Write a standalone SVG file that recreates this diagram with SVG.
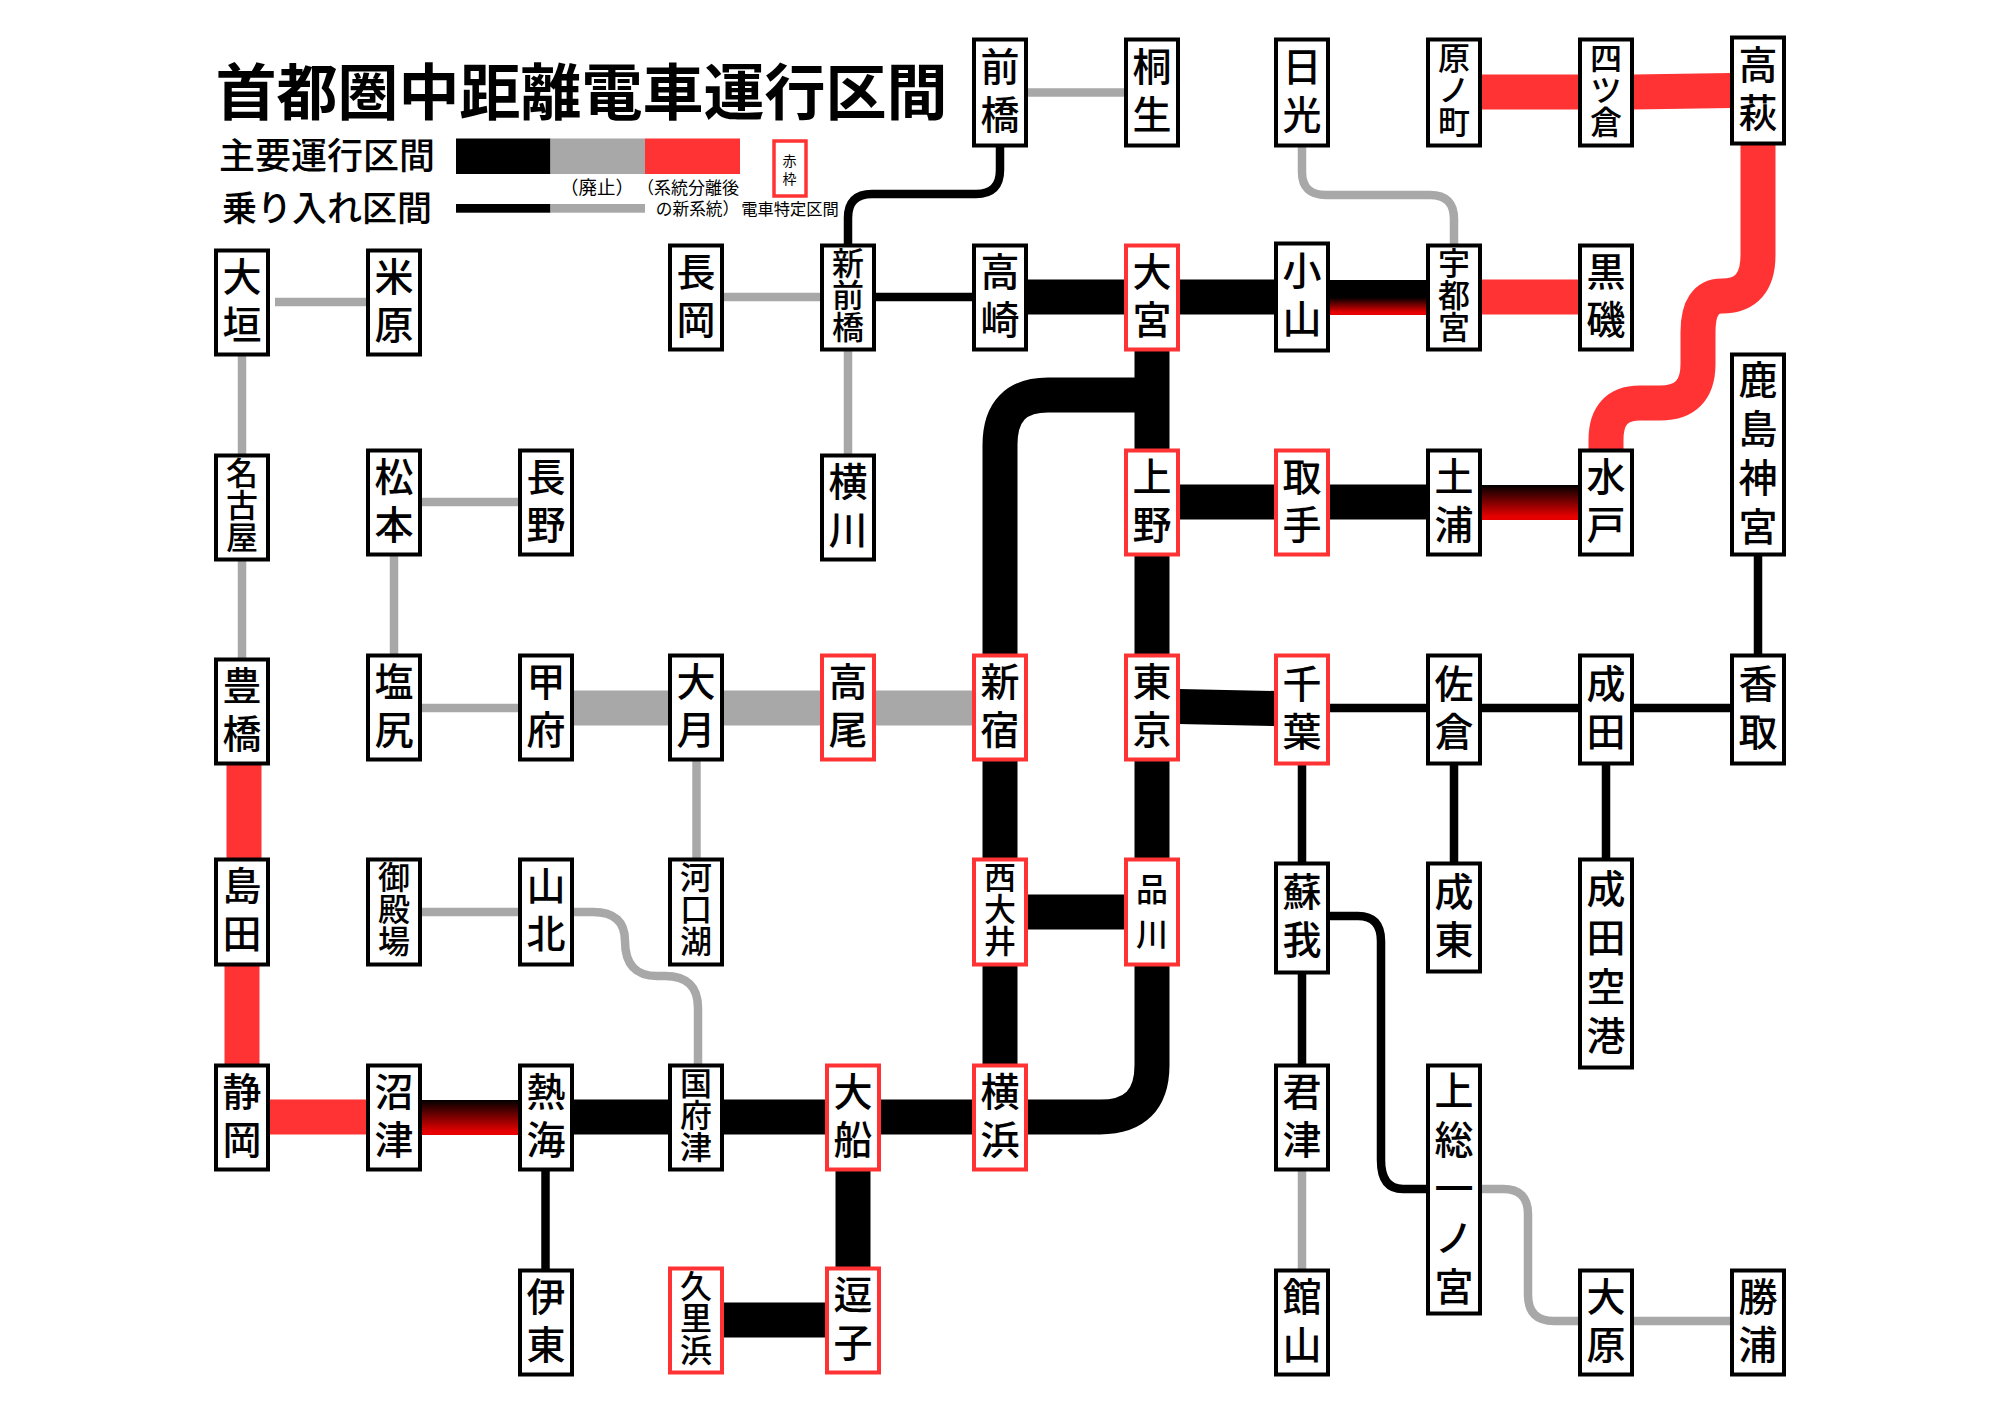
<svg xmlns="http://www.w3.org/2000/svg" width="2000" height="1414" viewBox="0 0 2000 1414">
<style>
text{font-family:"Noto Sans CJK JP","Noto Sans",sans-serif;fill:#000;text-anchor:middle}
.n rect{fill:#fff;stroke:#000;stroke-width:4}
.r rect{fill:#fff;stroke:#f33;stroke-width:4}
.n text,.r text{writing-mode:vertical-rl;text-orientation:upright;font-weight:500}
.f2 text{font-size:39px;transform:translateY(-2px)}
.f4 text{font-size:39px}
.f3 text,.f5 text{font-size:32px}
.k,.g,.d{fill:none}
.k{stroke:#000}.g{stroke:#a8a8a8}.d{stroke:#f33}
.w{stroke-width:35}.t{stroke-width:8.500}
</style>
<defs>
<linearGradient id="grad1" x1="0" y1="0" x2="0" y2="1"><stop offset="0.5" stop-color="#000"/><stop offset="0.92" stop-color="#e60000"/></linearGradient>
<linearGradient id="grad2" x1="0" y1="0" x2="0" y2="1"><stop offset="0" stop-color="#000"/><stop offset="0.9" stop-color="#e60000"/></linearGradient>
</defs>
<rect width="2000" height="1414" fill="#fff"/>
<g id="legend">
<text x="581.500" y="115" font-size="61" font-weight="700">首都圏中距離電車運行区間</text>
<text x="327" y="169" font-size="36" font-weight="500">主要運行区間</text>
<text x="327" y="221" font-size="35" font-weight="500">乗り入れ区間</text>
<rect x="456" y="138.500" width="94.500" height="35.500" fill="#000"/>
<rect x="550.500" y="138.500" width="94.500" height="35.500" fill="#a8a8a8"/>
<rect x="645" y="138.500" width="95" height="35.500" fill="#f33"/>
<rect x="456" y="204" width="94.500" height="8.700" fill="#000"/>
<rect x="550.500" y="204" width="94.500" height="8.700" fill="#a8a8a8"/>
<rect x="774" y="141" width="32" height="55" fill="#fff" stroke="#f33" stroke-width="3.500"/>
<text x="789.500" y="165.500" font-size="14">赤</text>
<text x="789.500" y="184" font-size="14">枠</text>
<text x="597" y="194" font-size="18.500">（廃止）</text>
<text x="688" y="194" font-size="17">（系統分離後</text>
<text x="697.500" y="215" font-size="16.700">の新系統）</text>
<text x="790" y="215" font-size="16.300">電車特定区間</text>
</g>
<g id="connectors">
<path class="g t" d="M1027 92.500H1125"/>
<path class="k t" d="M1000 147V170Q1000 194 976 194H872Q848 194 848 218V244"/>
<path class="g t" d="M1302 147V172Q1302 195 1326 195H1430Q1454 195 1454 219V244"/>
<path class="d w" d="M1482 92H1580"/>
<path class="d w" d="M1633 92L1731 90.500"/>
<path class="d w" d="M1758 145V255Q1758 296 1722 296Q1698 296 1698 332V364Q1698 403 1660 403H1640Q1606 403 1606 440V449"/>
<path class="g t" d="M275 302H367"/>
<path class="g t" d="M242 356V454M242 561V658"/>
<path class="g t" d="M724 297H821"/>
<path class="k t" d="M875 297H973"/>
<path class="g t" d="M848 351V454"/>
<path class="k w" d="M1027 297H1275"/>
<rect x="1329" y="280" width="98" height="35" fill="url(#grad1)"/>
<path class="d w" d="M1482 297H1579"/>
<path class="k w" d="M1152 351V1065Q1152 1117 1100 1117H1000"/>
<path class="k w" d="M1152 395H1048Q1000 395 1000 445V1117"/>
<path class="k w" d="M1179 502H1427"/>
<rect x="1481" y="485" width="98" height="35" fill="url(#grad2)"/>
<path class="g t" d="M421 502H519"/>
<path class="g t" d="M394 556V654"/>
<path class="g t" d="M421 708H519"/>
<path class="g w" d="M573 708H973"/>
<path class="k w" d="M1179 706.500L1276 708.500"/>
<path class="k t" d="M1330 708H1731"/>
<path class="k t" d="M1758 556V654"/>
<path class="k t" d="M1302 765V862M1302 974V1064"/>
<path class="k t" d="M1454 765V862"/>
<path class="k t" d="M1606 765V858"/>
<path class="d w" d="M244 765V858"/>
<path class="d w" d="M242 966V1064"/>
<path class="g t" d="M696.500 761V858"/>
<path class="g t" d="M421 912H519"/>
<path class="g t" d="M573 912H593Q625 912 625 941Q625 976 657 976H665Q698 976 698 1008V1064"/>
<path class="k w" d="M1027 912H1125"/>
<path class="k t" d="M1330 916H1358Q1381 916 1381 941V1160Q1381 1189 1403 1189H1427"/>
<path class="g t" d="M1482 1189H1503Q1528 1189 1528 1214V1295Q1528 1321 1554 1321H1579"/>
<path class="g t" d="M1633 1321H1731"/>
<path class="g t" d="M1302 1171V1269"/>
<path class="d w" d="M269 1117H367"/>
<rect x="421" y="1100" width="98" height="35" fill="url(#grad2)"/>
<path class="k w" d="M573 1117H973"/>
<path class="k t" d="M545.500 1171V1269"/>
<path class="k w" d="M853 1171V1267"/>
<path class="k w" d="M724 1320H826"/>
</g>
<g id="n-maebashi" class="n f2"><rect x="974" y="39.500" width="52" height="106"/><text><tspan x="1000" y="68">前</tspan><tspan x="1000" y="116">橋</tspan></text></g>
<g id="n-kiryu" class="n f2"><rect x="1126" y="39.500" width="52" height="106"/><text><tspan x="1152" y="68">桐</tspan><tspan x="1152" y="116">生</tspan></text></g>
<g id="n-nikko" class="n f2"><rect x="1276" y="39.500" width="52" height="106"/><text><tspan x="1302" y="68">日</tspan><tspan x="1302" y="116">光</tspan></text></g>
<g id="n-haranomachi" class="n f3"><rect x="1428" y="39.500" width="52" height="106"/><text><tspan x="1454" y="57.500">原</tspan><tspan x="1454" y="89.500">ノ</tspan><tspan x="1454" y="121.500">町</tspan></text></g>
<g id="n-yotsukura" class="n f3"><rect x="1580" y="39.500" width="52" height="106"/><text><tspan x="1606" y="57.500">四</tspan><tspan x="1606" y="89.500">ツ</tspan><tspan x="1606" y="121.500">倉</tspan></text></g>
<g id="n-takahagi" class="n f2"><rect x="1732" y="37.500" width="52" height="106"/><text><tspan x="1758" y="66">高</tspan><tspan x="1758" y="114">萩</tspan></text></g>
<g id="n-ogaki" class="n f2"><rect x="216" y="250.500" width="52" height="104"/><text><tspan x="242" y="278">大</tspan><tspan x="242" y="326">垣</tspan></text></g>
<g id="n-maibara" class="n f2"><rect x="368" y="250.500" width="52" height="104"/><text><tspan x="394" y="278">米</tspan><tspan x="394" y="326">原</tspan></text></g>
<g id="n-nagaoka" class="n f2"><rect x="670" y="245.500" width="52" height="104"/><text><tspan x="696" y="273">長</tspan><tspan x="696" y="321">岡</tspan></text></g>
<g id="n-shinmaebashi" class="n f3"><rect x="822" y="245.500" width="52" height="104"/><text><tspan x="848" y="262.500">新</tspan><tspan x="848" y="294.500">前</tspan><tspan x="848" y="326.500">橋</tspan></text></g>
<g id="n-takasaki" class="n f2"><rect x="974" y="245.500" width="52" height="104"/><text><tspan x="1000" y="273">高</tspan><tspan x="1000" y="321">崎</tspan></text></g>
<g id="n-omiya" class="r f2"><rect x="1126" y="245.500" width="52" height="104"/><text><tspan x="1152" y="273">大</tspan><tspan x="1152" y="321">宮</tspan></text></g>
<g id="n-oyama" class="n f2"><rect x="1276" y="243.500" width="52" height="107"/><text><tspan x="1302" y="272.500">小</tspan><tspan x="1302" y="320.500">山</tspan></text></g>
<g id="n-utsunomiya" class="n f3"><rect x="1428" y="245.500" width="52" height="104"/><text><tspan x="1454" y="262.500">宇</tspan><tspan x="1454" y="294.500">都</tspan><tspan x="1454" y="326.500">宮</tspan></text></g>
<g id="n-kuroiso" class="n f2"><rect x="1580" y="245.500" width="52" height="104"/><text><tspan x="1606" y="273">黒</tspan><tspan x="1606" y="321">磯</tspan></text></g>
<g id="n-nagoya" class="n f3"><rect x="216" y="455.500" width="52" height="104"/><text><tspan x="242" y="472.500">名</tspan><tspan x="242" y="504.500">古</tspan><tspan x="242" y="536.500">屋</tspan></text></g>
<g id="n-matsumoto" class="n f2"><rect x="368" y="450.500" width="52" height="104"/><text><tspan x="394" y="478">松</tspan><tspan x="394" y="526">本</tspan></text></g>
<g id="n-nagano" class="n f2"><rect x="520" y="450.500" width="52" height="104"/><text><tspan x="546" y="478">長</tspan><tspan x="546" y="526">野</tspan></text></g>
<g id="n-yokokawa" class="n f2"><rect x="822" y="455.500" width="52" height="104"/><text><tspan x="848" y="483">横</tspan><tspan x="848" y="531">川</tspan></text></g>
<g id="n-ueno" class="r f2"><rect x="1126" y="450.500" width="52" height="104"/><text><tspan x="1152" y="478">上</tspan><tspan x="1152" y="526">野</tspan></text></g>
<g id="n-toride" class="r f2"><rect x="1276" y="450.500" width="52" height="104"/><text><tspan x="1302" y="478">取</tspan><tspan x="1302" y="526">手</tspan></text></g>
<g id="n-tsuchiura" class="n f2"><rect x="1428" y="450.500" width="52" height="104"/><text><tspan x="1454" y="478">土</tspan><tspan x="1454" y="526">浦</tspan></text></g>
<g id="n-mito" class="n f2"><rect x="1580" y="450.500" width="52" height="104"/><text><tspan x="1606" y="478">水</tspan><tspan x="1606" y="526">戸</tspan></text></g>
<g id="n-kashimajingu" class="n f4"><rect x="1732" y="354.500" width="52" height="200"/><text><tspan x="1758" y="379">鹿</tspan><tspan x="1758" y="428">島</tspan><tspan x="1758" y="477">神</tspan><tspan x="1758" y="526">宮</tspan></text></g>
<g id="n-toyohashi" class="n f2"><rect x="216" y="659.500" width="52" height="104"/><text><tspan x="242" y="687">豊</tspan><tspan x="242" y="735">橋</tspan></text></g>
<g id="n-shiojiri" class="n f2"><rect x="368" y="655.500" width="52" height="104"/><text><tspan x="394" y="683">塩</tspan><tspan x="394" y="731">尻</tspan></text></g>
<g id="n-kofu" class="n f2"><rect x="520" y="655.500" width="52" height="104"/><text><tspan x="546" y="683">甲</tspan><tspan x="546" y="731">府</tspan></text></g>
<g id="n-otsuki" class="n f2"><rect x="670" y="655.500" width="52" height="104"/><text><tspan x="696" y="683">大</tspan><tspan x="696" y="731">月</tspan></text></g>
<g id="n-takao" class="r f2"><rect x="822" y="655.500" width="52" height="104"/><text><tspan x="848" y="683">高</tspan><tspan x="848" y="731">尾</tspan></text></g>
<g id="n-shinjuku" class="r f2"><rect x="974" y="655.500" width="52" height="104"/><text><tspan x="1000" y="683">新</tspan><tspan x="1000" y="731">宿</tspan></text></g>
<g id="n-tokyo" class="r f2"><rect x="1126" y="655.500" width="52" height="104"/><text><tspan x="1152" y="683">東</tspan><tspan x="1152" y="731">京</tspan></text></g>
<g id="n-chiba" class="r f2"><rect x="1276" y="655.500" width="52" height="108"/><text><tspan x="1302" y="685">千</tspan><tspan x="1302" y="733">葉</tspan></text></g>
<g id="n-sakura" class="n f2"><rect x="1428" y="655.500" width="52" height="108"/><text><tspan x="1454" y="685">佐</tspan><tspan x="1454" y="733">倉</tspan></text></g>
<g id="n-narita" class="n f2"><rect x="1580" y="655.500" width="52" height="108"/><text><tspan x="1606" y="685">成</tspan><tspan x="1606" y="733">田</tspan></text></g>
<g id="n-katori" class="n f2"><rect x="1732" y="655.500" width="52" height="108"/><text><tspan x="1758" y="685">香</tspan><tspan x="1758" y="733">取</tspan></text></g>
<g id="n-shimada" class="n f2"><rect x="216" y="859.500" width="52" height="105"/><text><tspan x="242" y="887.500">島</tspan><tspan x="242" y="935.500">田</tspan></text></g>
<g id="n-gotemba" class="n f3"><rect x="368" y="859.500" width="52" height="105"/><text><tspan x="394" y="877">御</tspan><tspan x="394" y="909">殿</tspan><tspan x="394" y="941">場</tspan></text></g>
<g id="n-yamakita" class="n f2"><rect x="520" y="859.500" width="52" height="105"/><text><tspan x="546" y="887.500">山</tspan><tspan x="546" y="935.500">北</tspan></text></g>
<g id="n-kawaguchiko" class="n f3"><rect x="670" y="859.500" width="52" height="105"/><text><tspan x="696" y="877">河</tspan><tspan x="696" y="909">口</tspan><tspan x="696" y="941">湖</tspan></text></g>
<g id="n-nishioi" class="r f3"><rect x="974" y="859.500" width="52" height="105"/><text><tspan x="1000" y="877">西</tspan><tspan x="1000" y="909">大</tspan><tspan x="1000" y="941">井</tspan></text></g>
<g id="n-shinagawa" class="r f5"><rect x="1126" y="859.500" width="52" height="105"/><text><tspan x="1152" y="888.500">品</tspan><tspan x="1152" y="933.500">川</tspan></text></g>
<g id="n-soga" class="n f2"><rect x="1276" y="863.500" width="52" height="109"/><text><tspan x="1302" y="893.500">蘇</tspan><tspan x="1302" y="941.500">我</tspan></text></g>
<g id="n-togane" class="n f2"><rect x="1428" y="863.500" width="52" height="108"/><text><tspan x="1454" y="893.500">成</tspan><tspan x="1454" y="941.500">東</tspan></text></g>
<g id="n-naritaairport" class="n f4"><rect x="1580" y="859.500" width="52" height="208"/><text><tspan x="1606" y="888.500">成</tspan><tspan x="1606" y="937.500">田</tspan><tspan x="1606" y="986.500">空</tspan><tspan x="1606" y="1035.500">港</tspan></text></g>
<g id="n-shizuoka" class="n f2"><rect x="216" y="1065.500" width="52" height="104"/><text><tspan x="242" y="1093">静</tspan><tspan x="242" y="1141">岡</tspan></text></g>
<g id="n-numazu" class="n f2"><rect x="368" y="1065.500" width="52" height="104"/><text><tspan x="394" y="1093">沼</tspan><tspan x="394" y="1141">津</tspan></text></g>
<g id="n-atami" class="n f2"><rect x="520" y="1065.500" width="52" height="104"/><text><tspan x="546" y="1093">熱</tspan><tspan x="546" y="1141">海</tspan></text></g>
<g id="n-kozu" class="n f3"><rect x="670" y="1065.500" width="52" height="104"/><text><tspan x="696" y="1083">国</tspan><tspan x="696" y="1115">府</tspan><tspan x="696" y="1147">津</tspan></text></g>
<g id="n-ofuna" class="r f2"><rect x="827" y="1065.500" width="52" height="104"/><text><tspan x="853" y="1093">大</tspan><tspan x="853" y="1141">船</tspan></text></g>
<g id="n-yokohama" class="r f2"><rect x="974" y="1065.500" width="52" height="104"/><text><tspan x="1000" y="1093">横</tspan><tspan x="1000" y="1141">浜</tspan></text></g>
<g id="n-kimitsu" class="n f2"><rect x="1276" y="1065.500" width="52" height="104"/><text><tspan x="1302" y="1093">君</tspan><tspan x="1302" y="1141">津</tspan></text></g>
<g id="n-kazusaichinomiya" class="n f4"><rect x="1428" y="1065.500" width="52" height="248"/><text><tspan x="1454" y="1090">上</tspan><tspan x="1454" y="1139">総</tspan><tspan x="1454" y="1188">一</tspan><tspan x="1454" y="1237">ノ</tspan><tspan x="1454" y="1286">宮</tspan></text></g>
<g id="n-ito" class="n f2"><rect x="520" y="1270.500" width="52" height="104"/><text><tspan x="546" y="1298">伊</tspan><tspan x="546" y="1346">東</tspan></text></g>
<g id="n-kurihama" class="r f3"><rect x="670" y="1268.500" width="52" height="104"/><text><tspan x="696" y="1285.500">久</tspan><tspan x="696" y="1317.500">里</tspan><tspan x="696" y="1349.500">浜</tspan></text></g>
<g id="n-zushi" class="r f2"><rect x="827" y="1268.500" width="52" height="104"/><text><tspan x="853" y="1296">逗</tspan><tspan x="853" y="1344">子</tspan></text></g>
<g id="n-tateyama" class="n f2"><rect x="1276" y="1270.500" width="52" height="104"/><text><tspan x="1302" y="1298">館</tspan><tspan x="1302" y="1346">山</tspan></text></g>
<g id="n-ohara" class="n f2"><rect x="1580" y="1270.500" width="52" height="104"/><text><tspan x="1606" y="1298">大</tspan><tspan x="1606" y="1346">原</tspan></text></g>
<g id="n-katsuura" class="n f2"><rect x="1732" y="1270.500" width="52" height="104"/><text><tspan x="1758" y="1298">勝</tspan><tspan x="1758" y="1346">浦</tspan></text></g>
</svg>
